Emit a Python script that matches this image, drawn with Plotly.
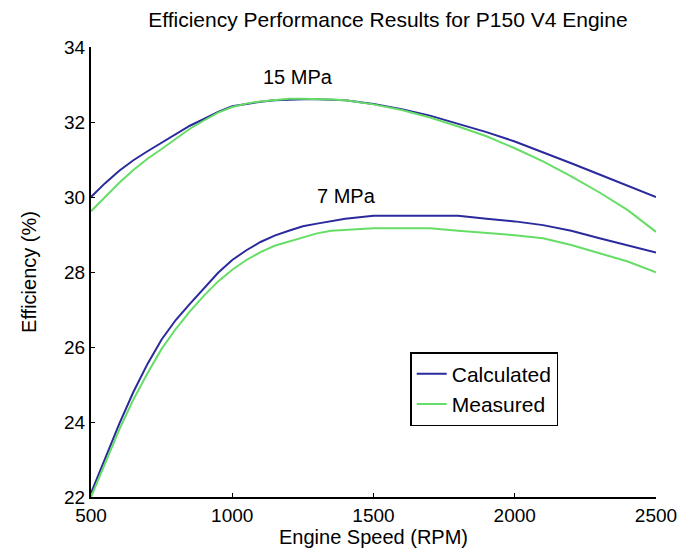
import plotly.graph_objects as go

rpm = [500, 550, 600, 650, 700, 750, 800, 850, 900, 950, 1000, 1050, 1100, 1150,
       1200, 1250, 1300, 1350, 1400, 1500, 1600, 1700, 1800, 1900, 2000, 2100,
       2200, 2300, 2400, 2500]

calc_15 = [30.0, 30.37, 30.7, 30.98, 31.22, 31.44, 31.67, 31.9, 32.08, 32.27, 32.42, 32.49,
           32.54, 32.58, 32.6, 32.61, 32.61, 32.6, 32.58, 32.48, 32.34, 32.17, 31.96, 31.73,
           31.48, 31.2, 30.9, 30.6, 30.3, 30.0]
meas_15 = [29.62, 30.0, 30.38, 30.72, 31.02, 31.28, 31.54, 31.82, 32.04, 32.25, 32.4, 32.49,
           32.55, 32.59, 32.62, 32.62, 32.62, 32.6, 32.58, 32.47, 32.32, 32.12, 31.88, 31.62,
           31.3, 30.95, 30.55, 30.12, 29.65, 29.07]
calc_7 = [22.1, 23.05, 23.95, 24.8, 25.55, 26.2, 26.72, 27.15, 27.58, 27.98, 28.32, 28.58,
          28.8, 28.97, 29.1, 29.22, 29.29, 29.36, 29.42, 29.5, 29.5, 29.5, 29.5, 29.42,
          29.35, 29.25, 29.1, 28.9, 28.72, 28.52]
meas_7 = [22.0, 22.92, 23.8, 24.6, 25.3, 25.95, 26.48, 26.95, 27.37, 27.75, 28.06, 28.32,
          28.53, 28.7, 28.81, 28.93, 29.03, 29.1, 29.13, 29.17, 29.17, 29.17, 29.1, 29.05,
          28.98, 28.9, 28.72, 28.5, 28.28, 27.99]

x_ticks = [500, 1000, 1500, 2000, 2500]
y_ticks = [22, 24, 26, 28, 30, 32, 34]

BLUE = "#2a2a9c"
GREEN = "#66dd66"
FONT = "Liberation Sans, Arial, sans-serif"

fig = go.Figure()
fig.add_trace(go.Scatter(x=rpm, y=calc_15, mode="lines", name="Calculated",
                         line=dict(color=BLUE, width=2), legendgroup="c"))
fig.add_trace(go.Scatter(x=rpm, y=calc_7, mode="lines", name="Calculated",
                         line=dict(color=BLUE, width=2), legendgroup="c", showlegend=False))
fig.add_trace(go.Scatter(x=rpm, y=meas_15, mode="lines", name="Measured",
                         line=dict(color=GREEN, width=2), legendgroup="m"))
fig.add_trace(go.Scatter(x=rpm, y=meas_7, mode="lines", name="Measured",
                         line=dict(color=GREEN, width=2), legendgroup="m", showlegend=False))

fig.add_annotation(x=1233, y=33.19, text="15 MPa", showarrow=False,
                   font=dict(size=20, color="black", family=FONT))
fig.add_annotation(x=1404, y=30.03, text="7 MPa", showarrow=False,
                   font=dict(size=20, color="black", family=FONT))

fig.update_layout(
    width=689, height=556,
    margin=dict(l=91, r=25, t=47, b=56),
    paper_bgcolor="white", plot_bgcolor="white",
    font=dict(family=FONT, size=19, color="black"),
    title=dict(text="Efficiency Performance Results for P150 V4 Engine",
               x=0.563, xref="container", xanchor="center",
               y=0.964, yref="container", yanchor="middle",
               font=dict(size=21, color="black", family=FONT)),
    legend=dict(x=0.565, y=0.322, xanchor="left", yanchor="top",
                bordercolor="black", borderwidth=1.5, bgcolor="white",
                font=dict(size=21, color="black", family=FONT),
                tracegroupgap=0),
    showlegend=True,
)
fig.update_xaxes(range=[500, 2500], tickvals=x_ticks, ticktext=[str(v) for v in x_ticks],
                 showline=True, linecolor="black", linewidth=2, mirror=False,
                 ticks="inside", ticklen=4, tickcolor="black", showgrid=False, zeroline=False,
                 title=dict(text="Engine Speed (RPM)", standoff=4,
                            font=dict(size=20, family=FONT)))
fig.update_yaxes(range=[22, 34], tickvals=y_ticks, ticktext=[str(v) for v in y_ticks],
                 showline=True, linecolor="black", linewidth=2, mirror=False,
                 ticks="inside", ticklen=4, tickcolor="black", showgrid=False, zeroline=False,
                 title=dict(text="Efficiency (%)", standoff=22,
                            font=dict(size=20, family=FONT)))

fig.write_html("out.html")
